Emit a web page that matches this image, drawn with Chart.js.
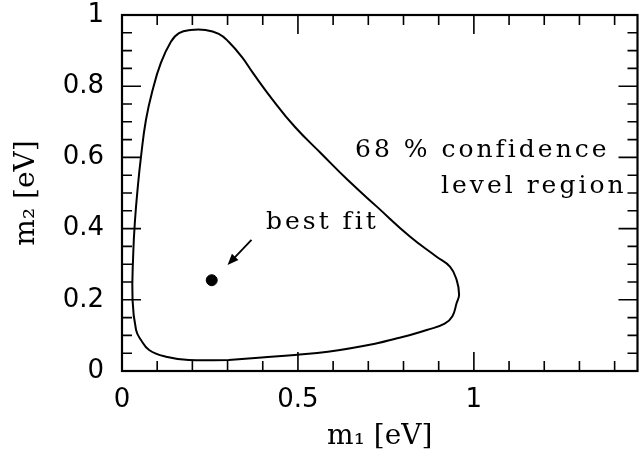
<!DOCTYPE html>
<html>
<head>
<meta charset="utf-8">
<script src="https://cdn.jsdelivr.net/npm/chart.js@4/dist/chart.umd.min.js"></script>
<style>
  body { margin: 0; background: #fff; }
  canvas { display: block; }
</style>
</head>
<body>
<canvas id="contourChart" width="644" height="457"></canvas>
<script>
// 68% contour (m1, m2 in eV), closed loop
const contourM1 = [0.303, 0.397, 0.491, 0.585, 0.725, 0.782, 0.819, 0.866, 0.917, 0.939,
    0.951, 0.958, 0.951, 0.932, 0.894, 0.819, 0.725, 0.641, 0.566, 0.491,
    0.425, 0.373, 0.340, 0.303, 0.275, 0.237, 0.195, 0.162, 0.139, 0.110,
    0.087, 0.068, 0.054, 0.045, 0.037, 0.032, 0.030, 0.040, 0.054, 0.077,
    0.125, 0.190, 0.303];
const contourM2 = [0.031, 0.038, 0.045, 0.054, 0.078, 0.092, 0.101, 0.115, 0.133, 0.154,
    0.191, 0.215, 0.256, 0.293, 0.321, 0.377, 0.461, 0.537, 0.611, 0.686,
    0.766, 0.836, 0.883, 0.925, 0.947, 0.958, 0.958, 0.949, 0.925, 0.864,
    0.789, 0.705, 0.602, 0.518, 0.424, 0.331, 0.199, 0.115, 0.087, 0.059,
    0.040, 0.031, 0.031];

const bestFitM1 = [0.255];
const bestFitM2 = [0.255];

// arrow pointing at the best fit: [start, end]
const arrowM1 = [0.368, 0.300];
const arrowM2 = [0.368, 0.298];

const xTickValues = [0, 0.5, 1];
const xTickLabels = ['0', '0.5', '1'];
const yTickValues = [0, 0.2, 0.4, 0.6, 0.8, 1];
const yTickLabels = ['0', '0.2', '0.4', '0.6', '0.8', '1'];
const xMinorTicks = [0, 0.1, 0.2, 0.3, 0.4, 0.5, 0.6, 0.7, 0.8, 0.9, 1, 1.1, 1.2, 1.3, 1.4];
const yMinorTicks = [0, 0.05, 0.1, 0.15, 0.2, 0.25, 0.3, 0.35, 0.4, 0.45, 0.5,
    0.55, 0.6, 0.65, 0.7, 0.75, 0.8, 0.85, 0.9, 0.95, 1];

const contourPoints = contourM1.map((v, i) => ({ x: v, y: contourM2[i] }));
const bestFitPoints = bestFitM1.map((v, i) => ({ x: v, y: bestFitM2[i] }));

// inward ticks on all four sides + the box
const frameTicks = {
    id: 'frameTicks',
    afterDatasetsDraw(chart) {
        const { ctx, chartArea: a, scales: { x, y } } = chart;
        ctx.save();
        ctx.strokeStyle = '#000';
        ctx.lineWidth = 1.6;
        ctx.beginPath();
        xMinorTicks.forEach(v => {
            const px = x.getPixelForValue(v);
            const len = xTickValues.includes(v) ? 19 : 10;
            ctx.moveTo(px, a.bottom); ctx.lineTo(px, a.bottom - len);
            ctx.moveTo(px, a.top); ctx.lineTo(px, a.top + len);
        });
        yMinorTicks.forEach(v => {
            const py = y.getPixelForValue(v);
            const len = yTickValues.includes(v) ? 19 : 10;
            ctx.moveTo(a.left, py); ctx.lineTo(a.left + len, py);
            ctx.moveTo(a.right, py); ctx.lineTo(a.right - len, py);
        });
        ctx.stroke();
        ctx.lineWidth = 2.2;
        ctx.strokeRect(a.left, a.top, a.right - a.left, a.bottom - a.top);
        ctx.restore();
    }
};

// text labels and the arrow
const annotations = {
    id: 'annotations',
    afterDatasetsDraw(chart) {
        const { ctx, scales: { x, y } } = chart;
        ctx.save();
        ctx.fillStyle = '#000';
        ctx.strokeStyle = '#000';
        ctx.font = '25px "DejaVu Serif"';
        ctx.textBaseline = 'alphabetic';
        ctx.textAlign = 'left';
        if ('letterSpacing' in ctx) ctx.letterSpacing = '3px';
        ctx.fillText('68 % confidence', 355, 157);
        ctx.fillText('level region', 441, 193);
        ctx.fillText('best fit', 266, 229);
        if ('letterSpacing' in ctx) ctx.letterSpacing = '0px';

        const x0 = x.getPixelForValue(arrowM1[0]), y0 = y.getPixelForValue(arrowM2[0]);
        const x1 = x.getPixelForValue(arrowM1[1]), y1 = y.getPixelForValue(arrowM2[1]);
        const ang = Math.atan2(y1 - y0, x1 - x0);
        ctx.lineWidth = 1.8;
        ctx.beginPath();
        ctx.moveTo(x0, y0);
        ctx.lineTo(x1 - 6 * Math.cos(ang), y1 - 6 * Math.sin(ang));
        ctx.stroke();
        ctx.beginPath();
        ctx.moveTo(x1, y1);
        ctx.lineTo(x1 - 11 * Math.cos(ang) + 4.5 * Math.sin(ang), y1 - 11 * Math.sin(ang) - 4.5 * Math.cos(ang));
        ctx.lineTo(x1 - 11 * Math.cos(ang) - 4.5 * Math.sin(ang), y1 - 11 * Math.sin(ang) + 4.5 * Math.cos(ang));
        ctx.closePath();
        ctx.fill();
        ctx.restore();
    }
};

const ctx = document.getElementById('contourChart').getContext('2d');
new Chart(ctx, {
    type: 'scatter',
    data: {
        datasets: [{
            label: '68% confidence level region',
            data: contourPoints,
            showLine: true,
            fill: false,
            borderColor: '#000',
            borderWidth: 2,
            pointRadius: 0,
            tension: 0.45
        }, {
            label: 'best fit',
            data: bestFitPoints,
            pointRadius: 5.5,
            pointBackgroundColor: '#000',
            pointBorderColor: '#000'
        }]
    },
    options: {
        responsive: false,
        animation: false,
        layout: { padding: { top: 15, right: 1, left: 0, bottom: 0 } },
        plugins: {
            legend: { display: false },
            tooltip: { enabled: false }
        },
        scales: {
            x: {
                type: 'linear',
                min: 0,
                max: 1.465,
                grid: { display: false, drawTicks: false },
                border: { display: false },
                afterBuildTicks: s => { s.ticks = xTickValues.map(v => ({ value: v })); },
                afterFit: s => { s.height = 86; s.paddingLeft = 0; s.paddingRight = 0; },
                ticks: {
                    padding: 14,
                    maxRotation: 0,
                    color: '#000',
                    font: { family: '"DejaVu Sans"', size: 26 },
                    callback: v => xTickLabels[xTickValues.indexOf(v)]
                },
                title: {
                    display: true,
                    text: 'm₁ [eV]',
                    color: '#000',
                    font: { family: '"DejaVu Serif"', size: 28 },
                    padding: { top: 0, bottom: 3 }
                }
            },
            y: {
                type: 'linear',
                min: 0,
                max: 1,
                grid: { display: false, drawTicks: false },
                border: { display: false },
                afterBuildTicks: s => { s.ticks = yTickValues.map(v => ({ value: v })); },
                afterFit: s => { s.width = 122; s.paddingTop = 0; s.paddingBottom = 0; },
                ticks: {
                    padding: 18,
                    color: '#000',
                    font: { family: '"DejaVu Sans"', size: 26 },
                    callback: v => yTickLabels[yTickValues.indexOf(v)]
                },
                title: {
                    display: true,
                    text: 'm₂ [eV]',
                    color: '#000',
                    font: { family: '"DejaVu Serif"', size: 28 },
                    padding: { top: 10, bottom: 0 }
                }
            }
        }
    },
    plugins: [frameTicks, annotations]
});
</script>
</body>
</html>
